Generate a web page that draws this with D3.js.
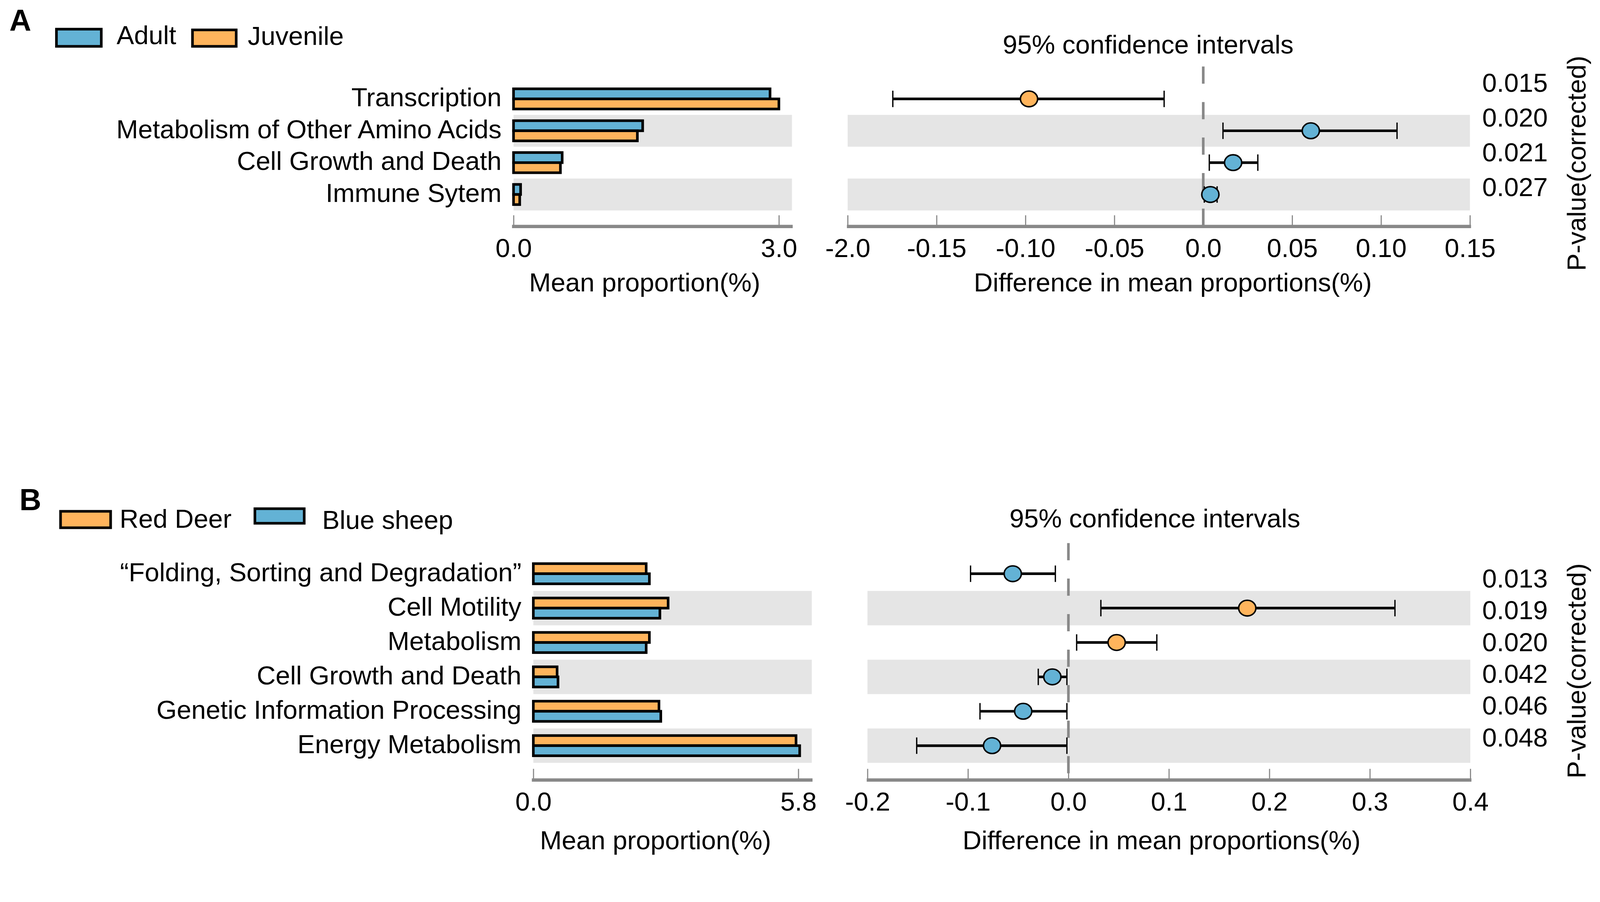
<!DOCTYPE html>
<html>
<head>
<meta charset="utf-8">
<script src="https://cdn.jsdelivr.net/npm/d3@7"></script>
<style>
	html, body { margin: 0; padding: 0; width: 100%; height: 100%; overflow: hidden; background: #fff; }
	#chart { display: block; width: 100vw; height: 100vh; }
	text { font-family: "Liberation Sans", Arial, Helvetica, sans-serif; fill: #000; }
</style>
</head>
<body>
<svg id="chart"></svg>
<script>
// --- DATA --- //
// Panel A: Adult vs Juvenile
var aCategories = ["Transcription", "Metabolism of Other Amino Acids", "Cell Growth and Death", "Immune Sytem"];
var aGroups = ["Adult", "Juvenile"];
var aAdult = [2.90, 1.46, 0.55, 0.08];
var aJuvenile = [3.00, 1.40, 0.53, 0.07];
var aDiff = [-0.098, 0.0605, 0.0168, 0.0040];
var aLower = [-0.1746, 0.0111, 0.0034, 0.0006];
var aUpper = [-0.0220, 0.1090, 0.0307, 0.0078];
var aPvalues = ["0.015", "0.020", "0.021", "0.027"];
var aMeanTicks = [0, 3.0];
var aDiffTicks = [-0.20, -0.15, -0.10, -0.05, 0, 0.05, 0.10, 0.15];
// first label is printed as "-2.0" in the original figure
var aDiffTickLabels = ["-2.0", "-0.15", "-0.10", "-0.05", "0.0", "0.05", "0.10", "0.15"];

// Panel B: Red Deer vs Blue sheep
var bCategories = ["\u201CFolding, Sorting and Degradation\u201D", "Cell Motility", "Metabolism",
	"Cell Growth and Death", "Genetic Information Processing", "Energy Metabolism"];
var bGroups = ["Red Deer", "Blue sheep"];
var bRedDeer = [2.47, 2.95, 2.54, 0.52, 2.75, 5.75];
var bBlueSheep = [2.54, 2.77, 2.47, 0.54, 2.79, 5.83];
var bDiff = [-0.0554, 0.178, 0.048, -0.016, -0.045, -0.076];
var bLower = [-0.0974, 0.0323, 0.0082, -0.030, -0.088, -0.151];
var bUpper = [-0.0130, 0.3250, 0.0880, -0.0015, -0.0015, -0.0015];
var bPvalues = ["0.013", "0.019", "0.020", "0.042", "0.046", "0.048"];
var bMeanTicks = [0, 5.8];
var bDiffTicks = [-0.2, -0.1, 0, 0.1, 0.2, 0.3, 0.4];
var bDiffTickLabels = ["-0.2", "-0.1", "0.0", "0.1", "0.2", "0.3", "0.4"];

var blue = "#63b2d5",
	orange = "#ffb45c",
	bandGray = "#e5e5e5",
	axisGray = "#888888",
	fontSize = 70;

var W = 4281, H = 2309;
// viewBox so the drawing fits whatever viewport the page gets (pinned top-left)
var svg = d3.select("#chart")
	.attr("viewBox", "0 0 " + W + " " + H)
	.attr("preserveAspectRatio", "xMinYMin meet");

// Panel options (built from the arrays above + layout)
var panels = [
	{
		letter: "A", cats: aCategories, groups: aGroups, series: [aAdult, aJuvenile], colors: [blue, orange],
		diff: aDiff, lower: aLower, upper: aUpper, pvals: aPvalues,
		meanDomain: [0, 3.0], meanTicks: aMeanTicks,
		diffDomain: [-0.20, 0.15], diffTicks: aDiffTicks, diffTickLabels: aDiffTickLabels,
		L: {
			letterX: 25, letterY: 83,
			rowTop: 222, rowBottom: 563,
			barLeft: 1374, barRight: 2084, barPanelRight: 2119,
			ciLeft: 2268, ciRight: 3933,
			axisY: 602, dashTop: 178,
			titleX: 3072, titleY: 143,
			pX: 3966, pTop: 246, pBottom: 525, pLabelY: 437,
			meanTitleX: 1725, diffTitleX: 3138, axisTitleY: 780,
			legend: [
				{ x: 148, y: 75, w: 126, h: 52, tx: 312, ty: 118 },
				{ x: 512, y: 77, w: 123, h: 50, tx: 663, ty: 120 }
			]
		}
	},
	{
		letter: "B", cats: bCategories, groups: bGroups, series: [bRedDeer, bBlueSheep], colors: [orange, blue],
		diff: bDiff, lower: bLower, upper: bUpper, pvals: bPvalues,
		meanDomain: [0, 5.8], meanTicks: bMeanTicks,
		diffDomain: [-0.2, 0.4], diffTicks: bDiffTicks, diffTickLabels: bDiffTickLabels,
		L: {
			letterX: 52, letterY: 1365,
			rowTop: 1489, rowBottom: 2041,
			barLeft: 1427, barRight: 2136, barPanelRight: 2172,
			ciLeft: 2321, ciRight: 3934,
			axisY: 2083, dashTop: 1453,
			titleX: 3090, titleY: 1411,
			pX: 3966, pTop: 1572, pBottom: 1997, pLabelY: 1795,
			meanTitleX: 1754, diffTitleX: 3108, axisTitleY: 2272,
			legend: [
				{ x: 159, y: 1365, w: 140, h: 50, tx: 320, ty: 1412 },
				{ x: 679, y: 1358, w: 138, h: 45, tx: 862, ty: 1415 }
			]
		}
	}
];

panels.forEach(drawPanel);

function drawPanel(p) {
	var L = p.L;
	var g = svg.append("g").attr("class", "panel-" + p.letter);

	var y = d3.scaleBand().domain(p.cats).range([L.rowTop, L.rowBottom]),
		ySub = d3.scaleBand().domain(p.groups).range([-27, 27]),
		xMean = d3.scaleLinear().domain(p.meanDomain).range([L.barLeft, L.barRight]),
		xDiff = d3.scaleLinear().domain(p.diffDomain).range([L.ciLeft, L.ciRight]),
		yP = d3.scalePoint().domain(p.cats).range([L.pTop, L.pBottom]);

	function rowMid(c) { return y(c) + y.bandwidth() / 2; }

	var rows = p.cats.map(function(c, i) {
		return {
			cat: c,
			diff: p.diff[i], lo: p.lower[i], hi: p.upper[i], pval: p.pvals[i],
			bars: p.groups.map(function(gr, j) {
				return { cat: c, group: gr, value: p.series[j][i], color: p.colors[j] };
			})
		};
	});

	// --- GRAY BANDS (every other row) --- //
	var striped = rows.filter(function(d, i) { return i % 2 === 1; });
	g.selectAll(".band-left").data(striped).enter().append("rect")
		.attr("x", L.barLeft)
		.attr("width", L.barPanelRight - L.barLeft)
		.attr("y", function(d) { return y(d.cat); })
		.attr("height", y.bandwidth())
		.attr("fill", bandGray);
	g.selectAll(".band-right").data(striped).enter().append("rect")
		.attr("x", xDiff.range()[0])
		.attr("width", xDiff.range()[1] - xDiff.range()[0])
		.attr("y", function(d) { return y(d.cat); })
		.attr("height", y.bandwidth())
		.attr("fill", bandGray);

	// --- BARS --- //
	g.selectAll(".row-bars").data(rows).enter().append("g")
		.selectAll("rect").data(function(d) { return d.bars; }).enter().append("rect")
		.attr("x", xMean(0))
		.attr("y", function(d) { return rowMid(d.cat) + ySub(d.group); })
		.attr("width", function(d) { return xMean(d.value) - xMean(0); })
		.attr("height", ySub.bandwidth())
		.attr("fill", function(d) { return d.color; })
		.attr("stroke", "#000")
		.attr("stroke-width", 7);

	// --- CATEGORY LABELS --- //
	g.selectAll(".cat-label").data(rows).enter().append("text")
		.attr("x", L.barLeft - 32)
		.attr("y", function(d) { return rowMid(d.cat) + 20; })
		.attr("text-anchor", "end")
		.attr("font-size", fontSize)
		.text(function(d) { return d.cat; });

	// --- ZERO LINE --- //
	g.append("line")
		.attr("x1", xDiff(0)).attr("x2", xDiff(0))
		.attr("y1", L.dashTop).attr("y2", L.axisY)
		.attr("stroke", axisGray)
		.attr("stroke-width", 7)
		.attr("stroke-dasharray", "46,49");

	// --- CONFIDENCE INTERVALS --- //
	var ci = g.selectAll(".ci").data(rows).enter().append("g")
		.attr("transform", function(d) { return "translate(0," + rowMid(d.cat) + ")"; });
	ci.append("line")
		.attr("x1", function(d) { return xDiff(d.lo); })
		.attr("x2", function(d) { return xDiff(d.hi); })
		.attr("stroke", "#000").attr("stroke-width", 7);
	ci.selectAll(".cap").data(function(d) { return [d.lo, d.hi]; }).enter().append("line")
		.attr("x1", function(v) { return xDiff(v); })
		.attr("x2", function(v) { return xDiff(v); })
		.attr("y1", -22).attr("y2", 22)
		.attr("stroke", "#000").attr("stroke-width", 3.5);
	ci.append("ellipse")
		.attr("cx", function(d) { return xDiff(d.diff); })
		.attr("rx", 23).attr("ry", 21)
		.attr("fill", function(d) { return d.diff > 0 ? p.colors[0] : p.colors[1]; })
		.attr("stroke", "#000").attr("stroke-width", 4);

	// --- P-VALUES --- //
	g.selectAll(".pval").data(rows).enter().append("text")
		.attr("x", L.pX)
		.attr("y", function(d) { return yP(d.cat); })
		.attr("font-size", fontSize)
		.text(function(d) { return d.pval; });

	g.append("text")
		.attr("transform", "translate(4242," + L.pLabelY + ") rotate(-90)")
		.attr("text-anchor", "middle")
		.attr("font-size", fontSize)
		.text("P-value(corrected)");

	// --- AXES --- //
	var meanAxis = d3.axisBottom(xMean)
		.tickValues(p.meanTicks)
		.tickFormat(d3.format(".1f"))
		.tickSize(-26).tickPadding(36);
	var diffAxis = d3.axisBottom(xDiff)
		.tickValues(p.diffTicks)
		.tickFormat(function(d, i) { return p.diffTickLabels[i]; })
		.tickSize(-26).tickPadding(36);

	[[meanAxis, L.barLeft - 4, L.barPanelRight + 2], [diffAxis, L.ciLeft - 2, L.ciRight + 3]].forEach(function(a) {
		var ax = g.append("g")
			.attr("transform", "translate(0," + L.axisY + ")")
			.call(a[0]);
		ax.select(".domain").remove();
		ax.selectAll(".tick line").attr("stroke", axisGray).attr("stroke-width", 3);
		ax.selectAll(".tick text")
			.attr("font-size", fontSize)
			.attr("font-family", "Liberation Sans, Arial, sans-serif")
			.attr("fill", "#000");
		ax.append("line")
			.attr("x1", a[1]).attr("x2", a[2])
			.attr("y1", 4).attr("y2", 4)
			.attr("stroke", axisGray).attr("stroke-width", 9);
	});

	// --- TITLES --- //
	g.append("text")
		.attr("x", L.meanTitleX).attr("y", L.axisTitleY)
		.attr("text-anchor", "middle").attr("font-size", fontSize)
		.text("Mean proportion(%)");
	g.append("text")
		.attr("x", L.diffTitleX).attr("y", L.axisTitleY)
		.attr("text-anchor", "middle").attr("font-size", fontSize)
		.text("Difference in mean proportions(%)");
	g.append("text")
		.attr("x", L.titleX).attr("y", L.titleY)
		.attr("text-anchor", "middle").attr("font-size", fontSize)
		.text("95% confidence intervals");

	g.append("text")
		.attr("x", L.letterX).attr("y", L.letterY)
		.attr("font-size", 81).attr("font-weight", "bold")
		.text(p.letter);

	// --- LEGEND --- //
	var leg = g.selectAll(".legend").data(p.groups).enter().append("g");
	leg.append("rect")
		.attr("x", function(d, i) { return L.legend[i].x + 3; })
		.attr("y", function(d, i) { return L.legend[i].y + 3; })
		.attr("width", function(d, i) { return L.legend[i].w - 6; })
		.attr("height", function(d, i) { return L.legend[i].h - 6; })
		.attr("fill", function(d, i) { return p.colors[i]; })
		.attr("stroke", "#000").attr("stroke-width", 7);
	leg.append("text")
		.attr("x", function(d, i) { return L.legend[i].tx; })
		.attr("y", function(d, i) { return L.legend[i].ty; })
		.attr("font-size", fontSize)
		.text(function(d) { return d; });
}
</script>
</body>
</html>
